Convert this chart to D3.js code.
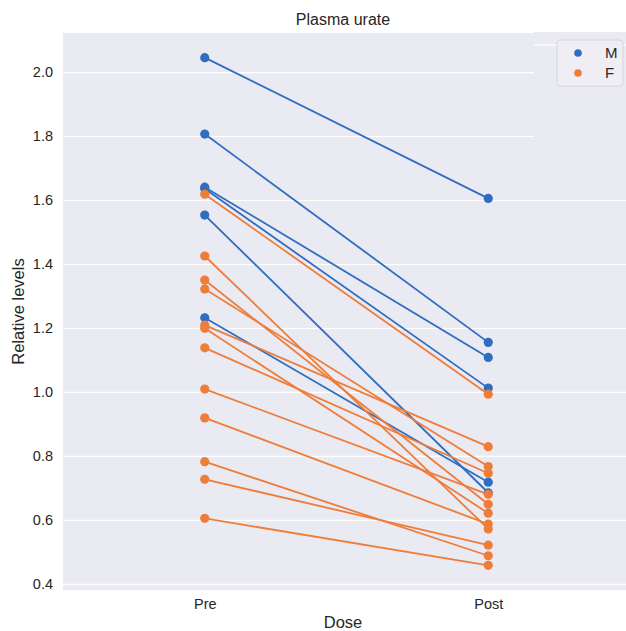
<!DOCTYPE html>
<html>
  <head>
    <meta charset="utf-8">
    <title>Plasma urate</title>
    <style media="screen">
      body{margin: 0; background-color: #ffffff;}
      text{font-family: "Liberation Sans", Arial, sans-serif;}
    </style>
  </head>
  <body>
<svg width="626" height="631"></svg>
<script src="https://d3js.org/d3.v7.min.js"></script>
<script>

// values, one entry per subject
var doses = ["Pre", "Post"];
var sexes = ["M", "F"];
var subjectSex = ["M", "M", "M", "M", "M", "M",
                  "F", "F", "F", "F", "F", "F", "F", "F", "F", "F", "F", "F"];
var preValues  = [2.045, 1.806, 1.640, 1.635, 1.553, 1.232,
                  1.618, 1.425, 1.350, 1.322, 1.209, 1.199, 1.138, 1.009, 0.919, 0.782, 0.727, 0.605];
var postValues = [1.605, 1.155, 1.108, 1.012, 0.685, 0.718,
                  0.993, 0.572, 0.649, 0.767, 0.829, 0.621, 0.746, 0.680, 0.587, 0.488, 0.521, 0.458];
var yTicks = [0.4, 0.6, 0.8, 1.0, 1.2, 1.4, 1.6, 1.8, 2.0];

var svg = d3.select("svg"),
    margin = {top: 33, right: -4, bottom: 41, left: 63},
    width = +svg.attr("width") - margin.left - margin.right,
    height = +svg.attr("height") - margin.top - margin.bottom,
    g = svg.append("g").attr("transform", "translate(" + margin.left + "," + margin.top + ")");

var color = d3.scaleOrdinal().domain(sexes).range(["#2f6dc0", "#ee7d3a"]);

var x = d3.scalePoint()
    .domain(doses)
    .range([0, width])
    .padding(0.5);

var y = d3.scaleLinear()
    .domain([0.381, 2.122])
    .range([height, 0]);

g.append("rect")
    .attr("width", width)
    .attr("height", height)
    .attr("fill", "#eaeaf2");

// horizontal grid
g.append("g")
    .call(d3.axisLeft(y).tickValues(yTicks).tickSize(-width).tickFormat(""))
    .call(function(a) { a.select(".domain").remove(); })
    .selectAll("line")
      .attr("stroke", "#ffffff")
      .attr("stroke-width", 1.2);

// the top right corner of the picture is a pasted patch with its own grid line
var patchX = 471;
g.append("rect")
    .attr("x", patchX)
    .attr("y", -1)
    .attr("width", width - patchX)
    .attr("height", 138)
    .attr("fill", "#eaeaf2");
g.append("line")
    .attr("x1", patchX)
    .attr("x2", width)
    .attr("y1", y(2.0) - 27)
    .attr("y2", y(2.0) - 27)
    .attr("stroke", "#ffffff")
    .attr("stroke-width", 1.2);

// y tick labels
g.append("g")
    .call(d3.axisLeft(y).tickValues(yTicks).tickSize(0).tickPadding(10).tickFormat(d3.format(".1f")))
    .call(function(a) { a.select(".domain").remove(); })
    .selectAll("text")
      .attr("fill", "#262626")
      .attr("font-size", 14.5);

// x tick labels
g.append("g")
    .attr("transform", "translate(0," + height + ")")
    .call(d3.axisBottom(x).tickSize(0).tickPadding(9))
    .call(function(a) { a.select(".domain").remove(); })
    .selectAll("text")
      .attr("fill", "#262626")
      .attr("font-size", 14.5);

var subjects = d3.range(preValues.length).map(function(i) {
  return {sex: subjectSex[i], values: [preValues[i], postValues[i]]};
});

var line = d3.line()
    .x(function(d, i) { return x(doses[i]); })
    .y(function(d) { return y(d); });

// males first, females drawn over them
sexes.forEach(function(s) {
  var group = g.append("g");
  subjects.filter(function(d) { return d.sex === s; }).forEach(function(d) {
    group.append("path")
        .datum(d.values)
        .attr("fill", "none")
        .attr("stroke", color(s))
        .attr("stroke-width", 1.8)
        .attr("d", line);
    group.selectAll(null)
        .data(d.values)
      .enter().append("circle")
        .attr("cx", function(v, i) { return x(doses[i]); })
        .attr("cy", function(v) { return y(v); })
        .attr("r", 4.6)
        .attr("fill", color(s));
  });
});

// legend
var legend = g.append("g").attr("transform", "translate(" + (width - 73) + ",7)");
legend.append("rect")
    .attr("width", 66)
    .attr("height", 46)
    .attr("rx", 3)
    .attr("fill", "#eeeef4")
    .attr("stroke", "#d4d4dc");
sexes.forEach(function(s, i) {
  legend.append("circle")
      .attr("cx", 21)
      .attr("cy", 13 + i * 20)
      .attr("r", 3.8)
      .attr("fill", color(s));
  legend.append("text")
      .attr("x", 48)
      .attr("y", 13 + i * 20)
      .attr("dy", "0.36em")
      .attr("fill", "#262626")
      .attr("font-size", 15)
      .text(s);
});

svg.append("text")
    .attr("x", 343)
    .attr("y", 25)
    .attr("text-anchor", "middle")
    .attr("fill", "#262626")
    .attr("font-size", 16)
    .text("Plasma urate");

svg.append("text")
    .attr("x", 343)
    .attr("y", 628)
    .attr("text-anchor", "middle")
    .attr("fill", "#262626")
    .attr("font-size", 16.5)
    .text("Dose");

svg.append("text")
    .attr("transform", "translate(24," + (margin.top + height / 2) + ") rotate(-90)")
    .attr("text-anchor", "middle")
    .attr("fill", "#262626")
    .attr("font-size", 16.5)
    .text("Relative levels");

</script>
  </body>
</html>
